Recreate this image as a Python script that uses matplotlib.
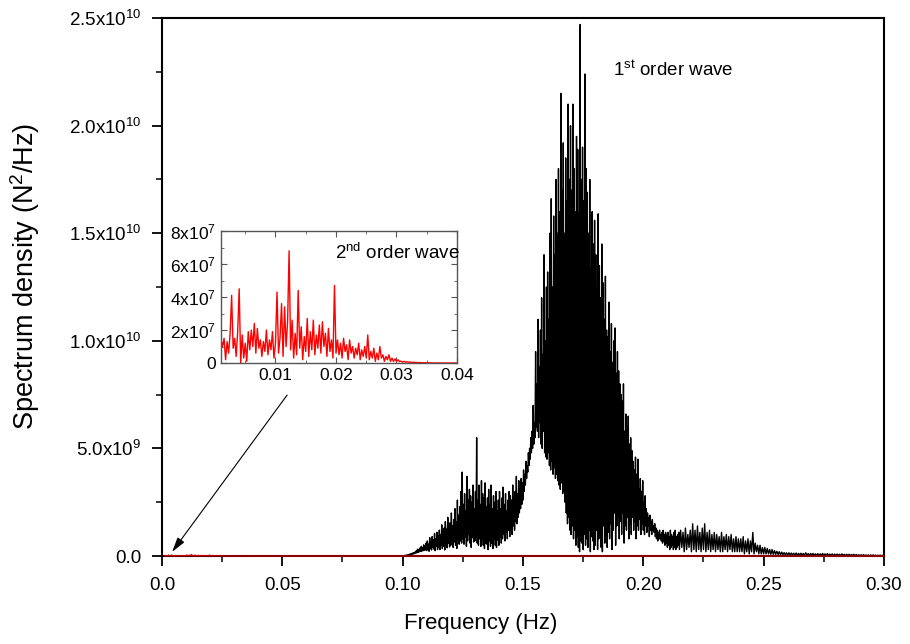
import numpy as np
import matplotlib
matplotlib.use("Agg")
import matplotlib.pyplot as plt
from matplotlib.ticker import MultipleLocator, FixedLocator

plt.rcParams["font.family"] = ["Liberation Sans", "DejaVu Sans"]
plt.rcParams["mathtext.fontset"] = "custom"
plt.rcParams["mathtext.rm"] = "Liberation Sans"
plt.rcParams["mathtext.it"] = "Liberation Sans:italic"

# 1st order wave spectrum in units of 1e8 N^2/Hz.
# core part: every 0.00025 Hz from 0.100 Hz (zero below that)
core_start = 0.100
core_step = 0.00025
first_core = [
    0, 0.1, 0.2, 0.1, 0.3, 0.2, 0.4, 0.3, 0.5, 0.4, 0.7, 0.5, 0.9, 0.6, 1.1, 0.8, 1.3, 0.9, 1.6, 1.1,
    1.2, 2.0, 1.4, 2.6, 1.5, 3.2, 1.7, 2.8, 2.0, 3.8, 2.1, 4.5, 2.3, 3.9, 2.5, 5.2, 2.6, 4.6, 2.8, 6.0,
    2.5, 7.0, 3.0, 5.5, 2.2, 8.5, 3.5, 6.5, 2.8, 9.0, 4.0, 7.5, 3.2, 10.5, 2.5, 8.0, 4.5, 11.0, 3.0, 9.5,
    4.0, 12.0, 3.0, 10.0, 5.0, 14.5, 3.5, 11.5, 4.5, 13.0, 2.8, 16.0, 5.5, 12.5, 3.8, 18.0, 6.0, 14.0, 4.2, 15.5,
    5.0, 20.0, 7.0, 14.0, 4.0, 17.0, 6.5, 22.0, 5.0, 16.0, 3.5, 26.0, 8.0, 19.0, 5.5, 23.0, 7.0, 30.0, 6.0, 39.0,
    8.0, 24.0, 5.5, 29.0, 9.0, 21.0, 4.5, 37.0, 7.0, 26.0, 10.0, 31.0, 6.0, 28.0, 4.0, 25.0, 8.5, 33.0, 6.5, 22.0,
    7.0, 30.0, 9.0, 55.0, 6.0, 26.0, 5.0, 33.0, 8.0, 24.0, 4.5, 35.0, 7.5, 29.0, 5.0, 27.0, 3.5, 34.0, 6.0, 23.0,
    5.5, 27.0, 3.0, 31.0, 7.0, 24.0, 4.5, 33.0, 6.0, 22.0, 3.5, 28.0, 8.0, 25.0, 5.0, 30.0, 4.0, 21.0, 7.5, 26.0,
    5.0, 30.0, 9.0, 22.0, 6.0, 27.0, 8.0, 32.0, 10.0, 24.0, 7.0, 29.0, 11.0, 21.0, 8.0, 26.0, 12.0, 30.0, 9.0, 28.0,
    12.0, 26.0, 10.0, 33.0, 14.0, 27.0, 12.0, 30.0, 16.0, 37.0, 15.0, 29.0, 18.0, 35.0, 20.0, 31.0, 22.0, 36.0, 24.0, 34.0,
    26.0, 40.0, 30.0, 38.0, 33.0, 44.0, 36.0, 42.0, 39.0, 48.0, 42.0, 50.0, 45.0, 55.0, 48.0, 58.0, 50.0, 70.0, 52.0, 62.0,
    55.0, 95.0, 60.0, 80.0, 58.0, 110.0, 55.0, 88.0, 62.0, 105.0, 52.0, 120.0, 50.0, 94.0, 58.0, 140.0, 48.0, 100.0, 46.0, 125.0,
    45.0, 132.0, 48.0, 110.0, 42.0, 150.0, 40.0, 166.0, 44.0, 125.0, 38.0, 158.0, 41.0, 140.0, 36.0, 175.0, 38.0, 150.0, 35.0, 180.0,
    33.0, 160.0, 31.0, 215.0, 34.0, 170.0, 29.0, 192.0, 30.0, 150.0, 25.0, 185.0, 20.0, 165.0, 15.0, 210.0, 18.0, 175.0, 12.0, 200.0,
    10.0, 170.0, 14.0, 210.0, 8.0, 180.0, 12.0, 160.0, 5.0, 195.0, 9.0, 189.0, 4.0, 160.0, 2.0, 247.0, 7.0, 175.0, 6.0, 190.0,
    3.0, 165.0, 10.0, 224.0, 5.0, 180.0, 8.0, 169.0, 4.0, 150.0, 12.0, 175.0, 2.0, 134.0, 9.0, 160.0, 7.0, 145.0, 3.0, 156.0,
    5.0, 140.0, 12.0, 125.0, 3.0, 159.0, 8.0, 135.0, 10.0, 120.0, 4.0, 145.0, 2.0, 127.0, 14.0, 110.0, 6.0, 130.0, 9.0, 105.0,
    4.0, 102.0, 11.0, 118.0, 8.0, 95.0, 15.0, 108.0, 3.0, 90.0, 12.0, 100.0, 20.0, 106.0, 5.0, 85.0, 14.0, 95.0, 18.0, 86.0,
    8.0, 80.0, 16.0, 75.0, 10.0, 72.0, 20.0, 80.0, 6.0, 58.0, 14.0, 66.0, 12.0, 60.0, 18.0, 65.0, 8.0, 52.0, 15.0, 55.0,
    10.0, 49.0, 18.0, 44.0, 12.0, 40.0, 16.0, 46.0, 8.0, 38.0, 14.0, 45.0, 12.0, 31.0, 17.0, 36.0, 10.0, 30.0, 15.0, 35.0,
    12.0, 25.0, 10.0, 28.0, 14.0, 22.0, 11.0, 20.0, 14.0, 18.0, 9.0, 19.0, 12.0, 16.0, 10.0, 17.0, 12.0, 14.0, 11.0, 15.0,
    9.0, 13.0, 8.0, 12.0, 7.0, 11.0, 8.0, 12.0, 8.0, 10.0, 7.0, 11.0, 6.0, 12.0, 7.0, 10.0, 5.0, 11.0, 6.0, 10.0,
    4.0, 11.0, 5.0, 9.0, 3.0, 12.0, 4.0, 10.0, 5.0, 9.0, 3.0, 11.0, 4.0, 12.0, 3.0, 9.0, 4.0, 10.0, 5.0, 11.0,
]
# tail part: every 0.0005 Hz from 0.215 Hz to 0.300 Hz
tail_start = 0.215
tail_step = 0.0005
first_tail = [
    3, 12, 4, 11, 2, 13, 3, 10, 4, 12,
    2, 15, 3, 12, 2, 14, 3, 11, 2, 13,
    3, 15, 2, 11, 3, 12, 2, 10, 3, 11,
    2, 10, 3, 9, 2, 11, 2, 9, 3, 10,
    2, 9, 3, 10, 2, 8, 2, 9, 2, 8,
    2, 8, 2, 9, 1, 7, 2, 8, 1, 7,
    2, 11, 1, 6, 2, 5, 1, 5, 1, 4,
    1, 4, 1, 3.5, 1, 3, 0.8, 3, 0.8, 2.5,
    0.8, 2.2, 0.7, 2, 0.6, 1.8, 0.6, 1.6, 0.5, 1.5,
    0.5, 1.5, 0.5, 1.4, 0.5, 1.3, 0.4, 1.4, 0.5, 1.2,
    0.4, 1.3, 0.4, 1.2, 0.4, 1.5, 0.4, 1.1, 0.3, 1.2,
    0.3, 1.2, 0.3, 1.0, 0.3, 1.1, 0.3, 1.0, 0.3, 1.2,
    0.3, 1.0, 0.2, 1.1, 0.2, 0.9, 0.2, 1.0, 0.2, 0.9,
    0.2, 0.9, 0.2, 0.8, 0.2, 1.0, 0.2, 0.8, 0.2, 0.8,
    0.2, 0.8, 0.2, 0.7, 0.2, 0.8, 0.1, 0.7, 0.1, 0.6,
    0.1, 0.6, 0.1, 0.6, 0.1, 0.5, 0.1, 0.5, 0.1, 0.5,
    0.1, 0.5, 0.1, 0.4, 0.1, 0.4, 0.1, 0.4, 0.1, 0.3,
    0.2,
]

# 2nd order wave spectrum in units of 1e7 N^2/Hz, every 0.00025 Hz from 0.001 Hz
second_start = 0.001
second_step = 0.00025
second_order = [
    1.4, 1.0, 1.5, 0.2, 1.3, 0.6, 1.8, 4.1, 0.9, 1.5,
    0.4, 1.9, 4.5, 0.0, 1.7, 0.3, 1.2, 0.1, 1.9, 0.8,
    2.0, 1.0, 2.4, 0.6, 2.1, 0.9, 1.4, 0.4, 1.3, 0.7,
    2.0, 0.5, 1.4, 0.8, 1.9, 0.3, 1.2, 4.3, 0.6, 1.5,
    3.6, 0.4, 3.4, 1.0, 2.5, 6.8, 0.8, 2.6, 0.3, 1.8,
    0.5, 4.4, 0.9, 2.2, 0.2, 1.6, 0.7, 2.7, 0.4, 1.9,
    0.8, 2.6, 0.5, 1.7, 0.9, 2.3, 0.6, 2.5, 1.0, 1.8,
    0.4, 2.1, 0.7, 1.4, 0.3, 4.7, 0.6, 1.4, 0.5, 1.2,
    0.3, 1.5, 0.7, 1.1, 0.2, 1.4, 0.6, 1.0, 0.3, 0.9,
    0.5, 1.2, 0.2, 0.8, 0.4, 1.0, 0.3, 1.7, 0.2, 0.7,
    0.3, 0.9, 0.1, 0.6, 0.2, 1.0, 0.3, 0.5, 0.1, 0.4,
    0.2, 0.5, 0.1, 0.3, 0.1, 0.25, 0.1, 0.2, 0.08, 0.12,
    0.05, 0.1, 0.05, 0.08, 0.04, 0.07, 0.03, 0.05, 0.03, 0.04,
    0.02, 0.03, 0.02, 0.02, 0.01, 0.02, 0.01, 0.01, 0.01, 0.01,
    0.0, 0.01, 0.0, 0.0, 0.01, 0.0, 0.0, 0.0, 0.0, 0.0,
    0.0, 0.0, 0.0, 0.0, 0.0, 0.0, 0.0,
]
# 2nd order stays at zero out to the end of the main axis
second_tail_freq = [0.045, 0.30]
second_tail = [0.0, 0.0]

main_xticks = [0.0, 0.05, 0.10, 0.15, 0.20, 0.25, 0.30]
main_xlabels = ["0.0", "0.05", "0.10", "0.15", "0.20", "0.25", "0.30"]
main_yticks = [0.0, 5e9, 1e10, 1.5e10, 2e10, 2.5e10]
main_ylabels = ["0.0", r"5.0x10$^{9}$", r"1.0x10$^{10}$", r"1.5x10$^{10}$",
                r"2.0x10$^{10}$", r"2.5x10$^{10}$"]
inset_xticks = [0.01, 0.02, 0.03, 0.04]
inset_xlabels = ["0.01", "0.02", "0.03", "0.04"]
inset_yticks = [0, 2e7, 4e7, 6e7, 8e7]
inset_ylabels = ["0", r"2x10$^{7}$", r"4x10$^{7}$", r"6x10$^{7}$", r"8x10$^{7}$"]

f1 = np.concatenate([[0.0, core_start - 0.01],
                     core_start + core_step * np.arange(len(first_core)),
                     tail_start + tail_step * np.arange(len(first_tail))])
s1 = np.concatenate([[0.0, 0.0], first_core, first_tail]) * 1e8
f2 = second_start + second_step * np.arange(len(second_order))
s2 = np.array(second_order) * 1e7
f2_full = np.concatenate([f2, second_tail_freq])
s2_full = np.concatenate([s2, second_tail])

fig = plt.figure(figsize=(9.1, 6.44), dpi=100)
ax = fig.add_axes([0.178, 0.1366, 0.7934, 0.8354])

ax.plot(f1, s1, color="black", lw=1.0)
ax.plot(f2_full, s2_full, color="#cc0000", lw=1.0, zorder=3, clip_on=False)

ax.set_xlim(0, 0.3)
ax.set_ylim(0, 2.5e10)
ax.xaxis.set_major_locator(FixedLocator(main_xticks))
ax.set_xticklabels(main_xlabels)
ax.xaxis.set_minor_locator(MultipleLocator(0.025))
ax.yaxis.set_major_locator(FixedLocator(main_yticks))
ax.set_yticklabels(main_ylabels)
ax.yaxis.set_minor_locator(MultipleLocator(2.5e9))
ax.tick_params(which="major", direction="out", length=7, width=1.3, labelsize=13.5, pad=8)
ax.tick_params(which="minor", direction="out", length=4, width=1.1)
for sp in ax.spines.values():
    sp.set_linewidth(1.5)
ax.set_xlabel("Frequency (Hz)", fontsize=16)
ax.xaxis.set_label_coords(0.442, -0.105)
ax.set_ylabel(r"Spectrum density (N$^2$/Hz)", fontsize=19.5)
ax.yaxis.set_label_coords(-0.166, 0.52)

ax.text(0.1874, 2.258e10, r"1$^{\mathrm{st}}$ order wave", fontsize=13.5, va="center")

# arrow pointing from the inset to the 2nd order curve near zero
arrow_tip = (0.0042, 0.19e9)
arrow_tail = (0.052, 7.48e9)
ax.annotate("", xy=arrow_tip, xytext=arrow_tail,
            arrowprops=dict(arrowstyle="-|>,head_length=0.9,head_width=0.25",
                            color="black", lw=0.8, shrinkA=0, shrinkB=0))

ins = fig.add_axes([0.2429, 0.4363, 0.2593, 0.2050])
ins.plot(f2, s2, color="red", lw=1.0)
ins.set_xlim(0.001, 0.04)
ins.set_ylim(0, 8e7)
ins.xaxis.set_major_locator(FixedLocator(inset_xticks))
ins.set_xticklabels(inset_xlabels)
ins.xaxis.set_minor_locator(MultipleLocator(0.005))
ins.yaxis.set_major_locator(FixedLocator(inset_yticks))
ins.set_yticklabels(inset_ylabels)
ins.yaxis.set_minor_locator(MultipleLocator(1e7))
ins.tick_params(which="both", direction="in", top=True, right=True,
                labelsize=12.5, color="#555555")
ins.tick_params(which="major", length=4)
ins.tick_params(which="minor", length=2.5)
for sp in ins.spines.values():
    sp.set_linewidth(1.0)
    sp.set_color("#555555")
ins.text(0.0199, 6.7e7, r"2$^{\mathrm{nd}}$ order wave", fontsize=13.5, va="center")

fig.savefig("out.png", dpi=100)
